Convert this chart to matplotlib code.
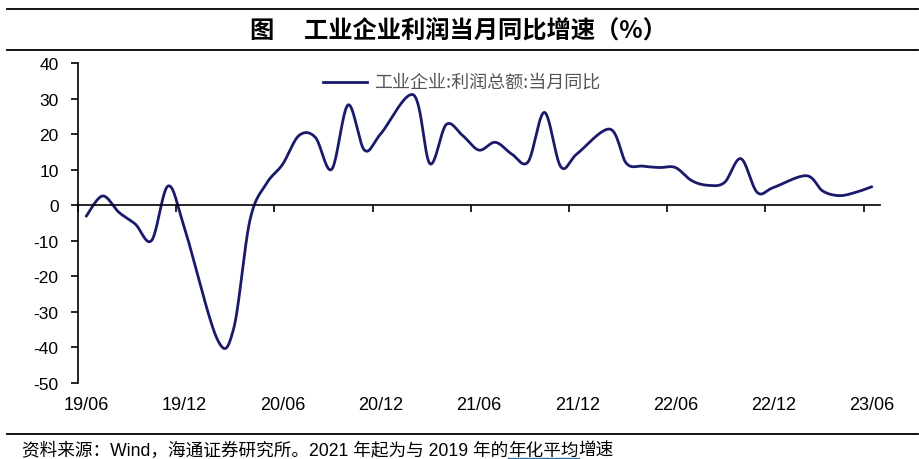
import numpy as np
import matplotlib
matplotlib.use('Agg')
import matplotlib.pyplot as plt
from matplotlib.lines import Line2D
import matplotlib.transforms as mtransforms

# ---------------- data ----------------
months = ['19/06', '19/07', '19/08', '19/09', '19/10', '19/11', '19/12',
          '20/02', '20/03', '20/04', '20/05', '20/06', '20/07', '20/08',
          '20/09', '20/10', '20/11', '20/12',
          '21/02', '21/03', '21/04', '21/05', '21/06', '21/07', '21/08',
          '21/09', '21/10', '21/11', '21/12',
          '22/02', '22/03', '22/04', '22/05', '22/06', '22/07', '22/08',
          '22/09', '22/10', '22/11', '22/12',
          '23/02', '23/03', '23/04', '23/05', '23/06']
profit_yoy = [-3.1, 2.6, -2.0, -5.3, -9.9, 5.4, -6.3,
              -37.6, -34.9, -4.3, 6.0, 11.5, 19.6, 19.1,
              10.1, 28.2, 15.5, 20.1,
              31.0, 11.7, 22.7, 19.6, 15.5, 17.7, 14.4,
              12.2, 26.1, 10.8, 14.5,
              21.4, 11.8, 11.0, 10.6, 10.6, 6.9, 5.6,
              6.4, 13.1, 3.6, 5.0,
              8.3, 4.0, 2.7, 3.6, 5.2]
tick_labels = ['19/06', '19/12', '20/06', '20/12', '21/06', '21/12',
               '22/06', '22/12', '23/06']
y_ticks = [40, 30, 20, 10, 0, -10, -20, -30, -40, -50]

title = '图　 工业企业利润当月同比增速（%）'
legend_label = '工业企业:利润总额:当月同比'
footer_a = '资料来源：Wind，海通证券研究所。2021 年起为与 2019 年的'
footer_b = '年化平均'
footer_c = '增速'

LATIN_CJK = ['Liberation Sans', 'Noto Sans CJK SC', 'DejaVu Sans']
plt.rcParams['font.family'] = LATIN_CJK


def month_index(lbl):
    yy, mm = lbl.split('/')
    return (int(yy) - 19) * 12 + int(mm) - 6


def smooth(xs, ys, sx, sy, n=40):
    """Excel-like smoothed line (Catmull-Rom via cubic Bezier) in scaled space."""
    P = np.column_stack([np.asarray(xs, float) * sx, np.asarray(ys, float) * sy])
    P = np.vstack([P[0], P, P[-1]])
    segs = []
    t = np.linspace(0, 1, n, endpoint=False)[:, None]
    for i in range(1, len(P) - 2):
        p0, p1, p2, p3 = P[i - 1], P[i], P[i + 1], P[i + 2]
        c1 = p1 + (p2 - p0) / 6.0
        c2 = p2 - (p3 - p1) / 6.0
        seg = ((1 - t) ** 3) * p1 + 3 * ((1 - t) ** 2) * t * c1 + \
              3 * (1 - t) * t ** 2 * c2 + t ** 3 * p2
        segs.append(seg)
    segs.append(P[-2][None, :])
    out = np.vstack(segs)
    return out[:, 0] / sx, out[:, 1] / sy


W, H = 920, 460
fig = plt.figure(figsize=(W / 100, H / 100), dpi=100)

# axes placement (pixels)
ax_l, ax_r, ax_t, ax_b = 78, 880, 64, 384
ax = fig.add_axes([ax_l / W, 1 - ax_b / H, (ax_r - ax_l) / W, (ax_b - ax_t) / H])

xs = [month_index(m) for m in months]
sx_, sy_ = (ax_r - ax_l) / 49.0, (ax_b - ax_t) / 90.0
cx, cy = smooth(xs, profit_yoy, sx_, sy_)
line_color = '#1a1a6b'
ax.plot(cx, cy, color=line_color, lw=2.0, solid_capstyle='round')

ax.set_xlim(-0.5, 48.5)
ax.set_ylim(-50, 40)

for s in ['top', 'right']:
    ax.spines[s].set_visible(False)
ax.spines['bottom'].set_position(('data', 0))
ax.spines['bottom'].set_linewidth(1.2)
ax.spines['left'].set_linewidth(1.2)

tick_pos = [month_index(l) - 0.5 for l in tick_labels]
ax.set_xticks(tick_pos)
ax.set_xticklabels([])
ax.tick_params(axis='x', direction='out', length=5, width=1.2, color='black')

ax.set_yticks(y_ticks)
ax.set_yticklabels([str(v) for v in y_ticks], fontsize=12.5)
ax.tick_params(axis='y', direction='out', length=5, width=1.2, color='black', pad=9)

trans = mtransforms.blended_transform_factory(ax.transData, ax.transAxes)
for l in tick_labels:
    ax.text(month_index(l), -22 / (ax_b - ax_t), l, transform=trans,
            ha='center', va='center', fontsize=13)

# legend (manual, in figure pixel coords)
fig.add_artist(Line2D([323 / W, 367 / W], [1 - 83 / H] * 2, color=line_color, lw=2.0))
fig.text(374 / W, 1 - 83 / H, legend_label, ha='left', va='center',
         fontsize=13, color='#555555', family=['Noto Sans CJK SC', 'DejaVu Sans'])

# title and rules
fig.add_artist(Line2D([7 / W, 918 / W], [1 - 10 / H] * 2, color='black', lw=1.3))
fig.add_artist(Line2D([7 / W, 918 / W], [1 - 51 / H] * 2, color='black', lw=1.3))
fig.text(458 / W, 1 - 31 / H, title, ha='center', va='center', fontsize=17.5,
         fontweight='bold', family=['Noto Sans CJK SC', 'DejaVu Sans'])
fig.add_artist(Line2D([7 / W, 918 / W], [1 - 435 / H] * 2, color='black', lw=1.3))

# footer
fig.canvas.draw()
renderer = fig.canvas.get_renderer()
fy = 1 - 451 / H
fs = 12.7
ta = fig.text(22 / W, fy, footer_a, ha='left', va='center', fontsize=fs)
bb = ta.get_window_extent(renderer)
tb = fig.text(bb.x1 / W, fy, footer_b, ha='left', va='center', fontsize=fs)
bb2 = tb.get_window_extent(renderer)
tc = fig.text(bb2.x1 / W, fy, footer_c, ha='left', va='center', fontsize=fs)
fig.add_artist(Line2D([bb2.x0 / W, bb2.x1 / W], [(bb2.y0 + 1) / H] * 2,
                      color='#3a6fa0', lw=1.0))

fig.savefig('out.png', dpi=100, facecolor='white')
